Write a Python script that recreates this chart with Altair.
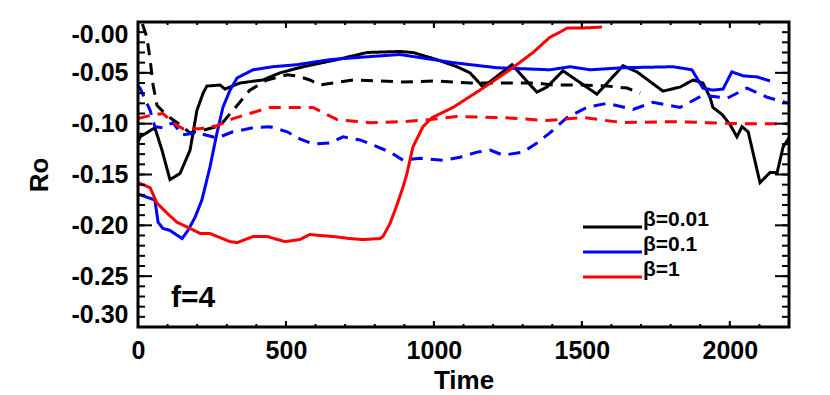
import altair as alt
import pandas as pd

# ---------------- data ----------------
series_labels = ["β=0.01", "β=0.1", "β=1"]
series_colors = ["#000000", "#0000ff", "#ff0000"]

black_solid_t = [0, 7, 57, 81, 108, 142, 176, 199, 220, 233, 277, 294, 345, 422, 480, 558, 673, 774, 885, 929,
                 1010, 1078, 1122, 1166, 1264, 1301, 1348, 1382, 1436, 1551, 1639, 1686, 1774, 1832, 1876, 1909,
                 1933, 1943, 1974, 2001, 2024, 2041, 2062, 2102, 2136, 2160, 2180, 2200]
black_solid_ro = [-0.118, -0.113, -0.104, -0.126, -0.155, -0.149, -0.126, -0.087, -0.070, -0.063, -0.062, -0.066,
                  -0.060, -0.057, -0.050, -0.044, -0.037, -0.030, -0.029, -0.030, -0.037, -0.044, -0.050, -0.064,
                  -0.042, -0.054, -0.069, -0.064, -0.048, -0.071, -0.043, -0.049, -0.068, -0.064, -0.057, -0.060,
                  -0.074, -0.084, -0.091, -0.101, -0.113, -0.103, -0.108, -0.158, -0.148, -0.148, -0.123, -0.114]

black_dash_t = [15, 30, 41, 51, 64, 98, 142, 176, 226, 277, 321, 378, 436, 504, 537, 581, 615, 727, 896, 1010,
                1122, 1234, 1348, 1403, 1494, 1585, 1653, 1697]
black_dash_ro = [-0.002, -0.015, -0.037, -0.062, -0.082, -0.092, -0.101, -0.109, -0.106, -0.102, -0.087, -0.067,
                 -0.057, -0.052, -0.053, -0.057, -0.062, -0.057, -0.059, -0.058, -0.060, -0.060, -0.060, -0.062,
                 -0.062, -0.063, -0.065, -0.070]

blue_solid_t = [0, 7, 57, 68, 84, 108, 149, 169, 193, 216, 243, 267, 287, 311, 335, 389, 456, 537, 649, 784, 885,
                953, 1065, 1213, 1392, 1460, 1528, 1639, 1808, 1872, 1909, 1943, 1977, 2007, 2045, 2092, 2136]
blue_solid_ro = [-0.170, -0.170, -0.175, -0.197, -0.203, -0.205, -0.213, -0.205, -0.192, -0.175, -0.143, -0.109,
                 -0.084, -0.067, -0.055, -0.047, -0.044, -0.042, -0.037, -0.034, -0.032, -0.035, -0.040, -0.045,
                 -0.047, -0.044, -0.047, -0.045, -0.044, -0.047, -0.065, -0.067, -0.066, -0.049, -0.053, -0.054,
                 -0.058]

blue_dash_t = [0, 7, 41, 57, 84, 118, 149, 199, 267, 321, 389, 446, 504, 547, 591, 649, 693, 750, 794, 852, 896,
               953, 1031, 1088, 1146, 1190, 1234, 1301, 1348, 1392, 1450, 1517, 1585, 1673, 1740, 1832, 1909, 1991,
               2058, 2126, 2200]
blue_dash_ro = [-0.063, -0.065, -0.087, -0.103, -0.104, -0.099, -0.111, -0.109, -0.114, -0.108, -0.104, -0.103,
                -0.108, -0.115, -0.120, -0.119, -0.113, -0.116, -0.121, -0.128, -0.136, -0.134, -0.136, -0.133,
                -0.128, -0.126, -0.131, -0.128, -0.119, -0.109, -0.094, -0.084, -0.080, -0.086, -0.079, -0.084,
                -0.072, -0.075, -0.065, -0.074, -0.080]

red_solid_t = [0, 41, 64, 98, 132, 176, 210, 243, 311, 335, 389, 436, 497, 547, 581, 615, 659, 716, 760, 818, 828,
               852, 875, 896, 909, 929, 963, 994, 1065, 1166, 1257, 1335, 1392, 1426, 1450, 1494, 1568]
red_solid_ro = [-0.158, -0.163, -0.178, -0.188, -0.197, -0.203, -0.208, -0.208, -0.216, -0.217, -0.211, -0.211,
                -0.216, -0.214, -0.209, -0.210, -0.211, -0.213, -0.214, -0.213, -0.211, -0.198, -0.180, -0.162,
                -0.149, -0.123, -0.103, -0.094, -0.084, -0.065, -0.047, -0.030, -0.015, -0.010, -0.006, -0.006,
                -0.005]

red_dash_t = [0, 41, 84, 118, 152, 210, 267, 321, 389, 446, 558, 591, 673, 784, 896, 987, 1078, 1234, 1382, 1504,
              1639, 1808, 1923, 2035, 2200]
red_dash_ro = [-0.095, -0.092, -0.090, -0.099, -0.105, -0.105, -0.102, -0.095, -0.089, -0.084, -0.084, -0.084,
               -0.096, -0.099, -0.098, -0.096, -0.093, -0.094, -0.097, -0.094, -0.099, -0.098, -0.099, -0.100,
               -0.100]

x_major = [0, 500, 1000, 1500, 2000]
x_minor = list(range(0, 2201, 100))
y_major = [-0.30, -0.25, -0.20, -0.15, -0.10, -0.05, 0.0]
y_minor = [round(-0.30 + 0.01 * i, 2) for i in range(31)]

annot_text = ["f=4"]
annot_t = [186]
annot_ro = [-0.2715]

# ---------------- build tables ----------------
rows = []
for lab, style, ts, rs in [
    (series_labels[0], "solid", black_solid_t, black_solid_ro),
    (series_labels[0], "dashed", black_dash_t, black_dash_ro),
    (series_labels[1], "solid", blue_solid_t, blue_solid_ro),
    (series_labels[1], "dashed", blue_dash_t, blue_dash_ro),
    (series_labels[2], "solid", red_solid_t, red_solid_ro),
    (series_labels[2], "dashed", red_dash_t, red_dash_ro),
]:
    for t, r in zip(ts, rs):
        rows.append({"t": t, "ro": r, "beta": lab, "style": style, "key": lab + style})
df = pd.DataFrame(rows)

W, H = 651, 305
FONT = "Liberation Sans"

xs = alt.Scale(domain=[0, 2200], nice=False, zero=False)
ys = alt.Scale(domain=[-0.30, 0.0], nice=False, zero=False)

x_axis = alt.Axis(values=x_major, title="Time", labelFlush=False, format="d",
                  labelPadding=11, titlePadding=4)
y_axis = alt.Axis(values=y_major, title="Ro", labelFlush=True,
                  labelExpr="'-' + format(abs(datum.value), '.2f')",
                  labelPadding=10, titlePadding=19)

lines = alt.Chart(df).mark_line(strokeWidth=3, clip=True).encode(
    x=alt.X("t:Q", scale=xs, axis=x_axis),
    y=alt.Y("ro:Q", scale=ys, axis=y_axis),
    color=alt.Color("beta:N", scale=alt.Scale(domain=series_labels, range=series_colors), legend=None),
    strokeDash=alt.StrokeDash("style:N", scale=alt.Scale(domain=["solid", "dashed"],
                                                          range=[[1, 0], [12, 8]]), legend=None),
    detail="key:N",
    order="t:Q",
)

ymaj = pd.DataFrame({"ro": y_major})
ymin = pd.DataFrame({"ro": y_minor})
xmaj = pd.DataFrame({"t": x_major})
xmin = pd.DataFrame({"t": x_minor})

def yticks(d, length):
    left = alt.Chart(d).mark_rule(color="black", strokeWidth=2).encode(
        y=alt.Y("ro:Q", scale=ys), x=alt.value(0), x2=alt.value(length))
    right = alt.Chart(d).mark_rule(color="black", strokeWidth=2).encode(
        y=alt.Y("ro:Q", scale=ys), x=alt.value(W), x2=alt.value(W - length))
    return [left, right]

def xticks(d, length):
    bot = alt.Chart(d).mark_rule(color="black", strokeWidth=2).encode(
        x=alt.X("t:Q", scale=xs), y=alt.value(H), y2=alt.value(H - length))
    top = alt.Chart(d).mark_rule(color="black", strokeWidth=2).encode(
        x=alt.X("t:Q", scale=xs), y=alt.value(0), y2=alt.value(length))
    return [bot, top]

frame = alt.Chart(pd.DataFrame({"a": [0]})).mark_rect(
    fill=None, stroke="black", strokeWidth=3).encode(
    x=alt.value(0), x2=alt.value(W), y=alt.value(0), y2=alt.value(H))

annot = alt.Chart(pd.DataFrame({"text": annot_text, "t": annot_t, "ro": annot_ro})).mark_text(
    font=FONT, fontSize=30, fontWeight="bold", align="center", baseline="middle", color="black").encode(
    x=alt.X("t:Q", scale=xs), y=alt.Y("ro:Q", scale=ys), text="text:N")

# custom legend (guide): short line + label per series
LEG_X0, LEG_X1, LEG_Y0, LEG_DY = 445, 504, 205, 25
legend_layers = []
for i, (lab, col) in enumerate(zip(series_labels, series_colors)):
    one = pd.DataFrame({"label": [lab]})
    yy = LEG_Y0 + i * LEG_DY
    legend_layers.append(alt.Chart(one).mark_rule(color=col, strokeWidth=3).encode(
        x=alt.value(LEG_X0), x2=alt.value(LEG_X1), y=alt.value(yy)))
    legend_layers.append(alt.Chart(one).mark_text(
        font=FONT, fontSize=21, fontWeight="bold", align="left", baseline="alphabetic",
        color="black").encode(x=alt.value(LEG_X1 + 1), y=alt.value(yy - 1), text="label:N"))

chart = alt.layer(
    lines, *yticks(ymaj, 14), *yticks(ymin, 7), *xticks(xmaj, 6), *xticks(xmin, 3), frame, annot,
    *legend_layers
).properties(
    width=W, height=H,
    autosize=alt.AutoSizeParams(type="none"),
    padding={"left": 130, "top": 14, "right": 30, "bottom": 72},
).configure_axis(
    grid=False, ticks=False, domain=False,
    labelFont=FONT, labelFontSize=25, labelFontWeight="bold", labelColor="black",
    titleFont=FONT, titleFontSize=26, titleFontWeight="bold", titleColor="black",
).configure_view(stroke=None)

chart.save("out.html", embed_options={"renderer": "svg", "actions": False})
